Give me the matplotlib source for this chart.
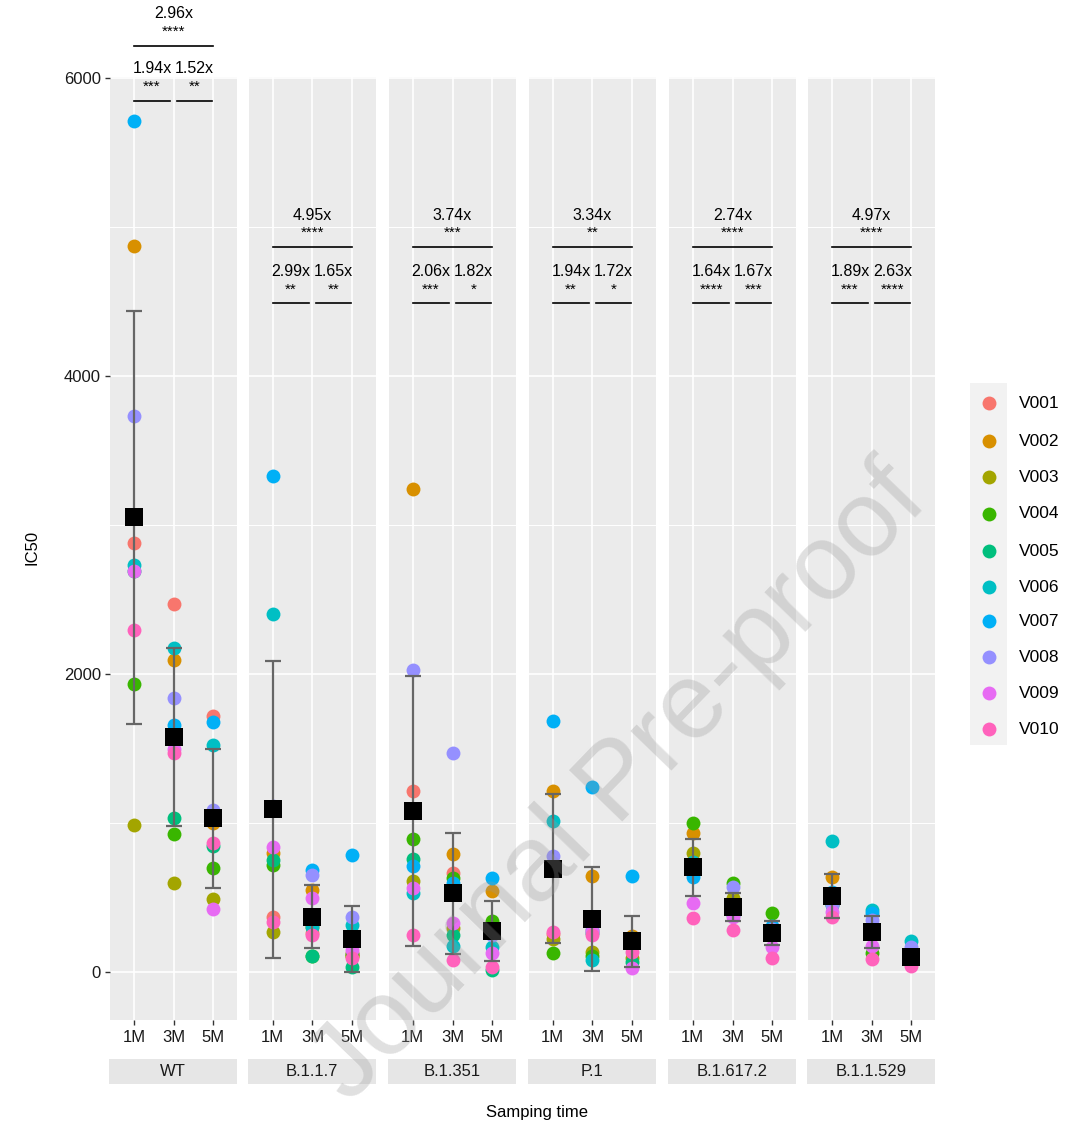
import numpy as np
import matplotlib.pyplot as plt

plt.rcParams['font.family'] = ['Liberation Sans', 'DejaVu Sans']

variants = ['WT', 'B.1.1.7', 'B.1.351', 'P.1', 'B.1.617.2', 'B.1.1.529']
times = ['1M', '3M', '5M']
donors = ['V001', 'V002', 'V003', 'V004', 'V005', 'V006', 'V007', 'V008', 'V009', 'V010']
donor_colors = ['#F8766D', '#D89000', '#A3A500', '#39B600', '#00BF7D',
                '#00BFC4', '#00B0F6', '#9590FF', '#E76BF3', '#FF62BC']

# IC50 for V001..V010, one row per sampling time (1M, 3M, 5M)
wt = [[2883, 4874, 985, 1937, 2690, 2735, 5712, 3734, 2695, 2299],
      [2474, 2092, 597, 925, 1032, 2179, 1656, 1837, 1500, 1468],
      [1720, 1000, 489, 697, 845, 1522, 1676, 1086, 422, 865]]
b117 = [[369, 798, 268, 717, 751, 2407, 3332, 1115, 838, 335],
        [260, 550, 300, 110, 107, 302, 684, 650, 496, 248],
        [130, 110, 110, 120, 34, 315, 784, 369, 147, 94]]
b1351 = [[1213, 3245, 610, 892, 758, 530, 711, 2031, 563, 248],
         [664, 791, 295, 630, 248, 174, 597, 1468, 328, 80],
         [330, 543, 300, 342, 13, 168, 630, 248, 127, 34]]
p1 = [[255, 1213, 221, 127, 700, 1012, 1683, 778, 690, 268],
      [280, 644, 134, 110, 260, 80, 1240, 282, 270, 248],
      [220, 240, 94, 200, 67, 230, 644, 210, 27, 134]]
b16172 = [[720, 932, 798, 999, 690, 740, 637, 700, 463, 362],
          [420, 450, 496, 597, 400, 380, 400, 570, 369, 282],
          [280, 270, 260, 396, 250, 290, 310, 290, 168, 94]]
b11529 = [[480, 637, 470, 460, 450, 878, 540, 450, 400, 369],
          [280, 290, 270, 130, 290, 416, 396, 349, 174, 87],
          [85, 90, 80, 85, 90, 208, 90, 168, 80, 40]]
ic50 = [wt, b117, b1351, p1, b16172, b11529]

# fold change and significance: 1M vs 5M, 1M vs 3M, 3M vs 5M
fold_1v5 = ['2.96x', '4.95x', '3.74x', '3.34x', '2.74x', '4.97x']
sig_1v5 = ['****', '****', '***', '**', '****', '****']
fold_1v3 = ['1.94x', '2.99x', '2.06x', '1.94x', '1.64x', '1.89x']
sig_1v3 = ['***', '**', '***', '**', '****', '***']
fold_3v5 = ['1.52x', '1.65x', '1.82x', '1.72x', '1.67x', '2.63x']
sig_3v5 = ['**', '**', '*', '*', '***', '****']

W, H = 1068, 1129
fig = plt.figure(figsize=(W / 100, H / 100), dpi=100)


def box(x0, y0, x1, y1):
    # pixel box (top-left origin) -> figure fraction rect
    return [x0 / W, 1 - y1 / H, (x1 - x0) / W, (y1 - y0) / H]


panel_left = [110, 249, 389, 529, 669, 808]
panel_w = 127
top, bottom = 77, 1020
x = np.array([1, 2, 3])

for i, var in enumerate(variants):
    ax = fig.add_axes(box(panel_left[i], top, panel_left[i] + panel_w, bottom))
    ax.set_facecolor('#EBEBEB')
    ax.set_xlim(0.4, 3.6)
    ax.set_ylim(-322, 6010)
    for s in ax.spines.values():
        s.set_visible(False)
    ax.set_yticks([0, 2000, 4000, 6000])
    ax.set_yticks([1000, 3000, 5000], minor=True)
    ax.set_xticks(x)
    ax.set_xticklabels(times)
    ax.grid(which='major', color='white', lw=1.2)
    ax.grid(which='minor', axis='y', color='white', lw=0.7)
    ax.set_axisbelow(True)
    ax.tick_params(axis='x', length=3.5, width=1, color='#333333',
                   labelsize=12, labelcolor='#1a1a1a', pad=4)
    ax.tick_params(axis='y', which='minor', length=0)
    if i == 0:
        ax.tick_params(axis='y', length=3.5, width=1, color='#333333',
                       labelsize=12, labelcolor='#1a1a1a', pad=3)
    else:
        ax.tick_params(axis='y', length=0, labelleft=False)

    vals = np.array(ic50[i], dtype=float)
    for d in range(len(donors)):
        ax.scatter(x, vals[:, d], s=100, color=donor_colors[d],
                   linewidths=0, zorder=3)
    mean = vals.mean(axis=1)
    sd = vals.std(axis=1, ddof=1)
    ax.errorbar(x, mean, yerr=sd, fmt='none', ecolor='#666666',
                elinewidth=1.6, capsize=5.8, capthick=1.6, zorder=4)
    ax.scatter(x, mean, marker='s', s=150, color='black', linewidths=0, zorder=5)

    # significance brackets
    if i == 0:
        y_long, y_short = 6221, 5852
    else:
        y_long, y_short = 4867, 4491
    kw = dict(color='black', lw=1.2, clip_on=False, zorder=6)
    ax.plot([1, 3], [y_long, y_long], **kw)
    ax.plot([1, 1.92], [y_short, y_short], **kw)
    ax.plot([2.08, 2.98], [y_short, y_short], **kw)
    tk = dict(ha='center', va='center', clip_on=False, color='black')
    ax.text(2, y_long + 215, fold_1v5[i], fontsize=11.5, **tk)
    ax.text(2, y_long + 95, sig_1v5[i], fontsize=11, **tk)
    ax.text(1.46, y_short + 215, fold_1v3[i], fontsize=11.5, **tk)
    ax.text(1.46, y_short + 90, sig_1v3[i], fontsize=11, **tk)
    ax.text(2.53, y_short + 215, fold_3v5[i], fontsize=11.5, **tk)
    ax.text(2.53, y_short + 90, sig_3v5[i], fontsize=11, **tk)

    # facet strip under the panel
    sax = fig.add_axes(box(panel_left[i] - 1, 1059, panel_left[i] + panel_w, 1084))
    sax.set_facecolor('#E6E6E6')
    sax.set_xticks([])
    sax.set_yticks([])
    for s in sax.spines.values():
        s.set_visible(False)
    sax.text(0.5, 0.5, var, ha='center', va='center', fontsize=12,
             color='#1a1a1a', transform=sax.transAxes)

fig.text(32 / W, 1 - 547 / H, 'IC50', rotation=90, ha='center', va='center',
         fontsize=12)
fig.text(537 / W, 1 - 1112 / H, 'Samping time', ha='center', va='center',
         fontsize=12)

# legend
lax = fig.add_axes(box(970, 383, 1007, 745))
lax.set_facecolor('#F2F2F2')
lax.set_xlim(0, 1)
lax.set_ylim(745, 383)
lax.set_xticks([])
lax.set_yticks([])
for s in lax.spines.values():
    s.set_visible(False)
key_y = [403, 441, 477, 514, 551, 587, 621, 657, 693, 729]
for d, name in enumerate(donors):
    lax.scatter(0.5, key_y[d], s=100, color=donor_colors[d], linewidths=0)
    fig.text(1019 / W, 1 - key_y[d] / H, name, ha='left', va='center', fontsize=12.5)

# watermark
fig.text(0.580, 0.305, 'Journal Pre-proof', rotation=46, ha='center',
         va='center', fontsize=78, color='#999999', alpha=0.3, zorder=20)

fig.savefig('out.png', dpi=100)
